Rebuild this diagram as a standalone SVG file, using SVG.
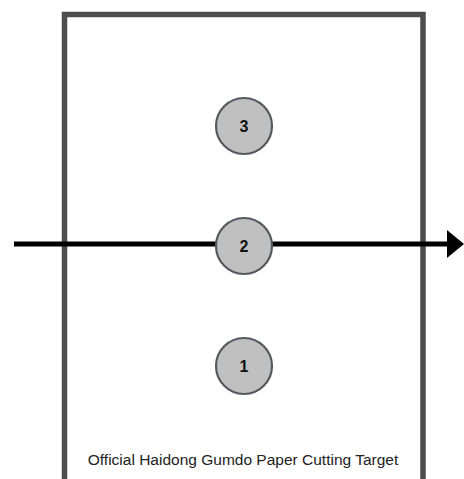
<svg xmlns="http://www.w3.org/2000/svg" width="464" height="479" viewBox="0 0 464 479">
<style>
.frame{fill:none;stroke:#4d4d4d;stroke-width:5.5}
.node circle{fill:#c0c0c0;stroke:#555a60;stroke-width:2.2}
.node text{font-family:"Liberation Sans",Arial,sans-serif;font-weight:bold;font-size:16px;fill:#111;text-anchor:middle}
.cap{font-family:"Liberation Sans",Arial,sans-serif;font-size:15.5px;fill:#222;text-anchor:middle}
.conn{stroke:#000;stroke-width:5;fill:none}
</style>
<defs>
<marker id="ah" markerUnits="userSpaceOnUse" markerWidth="18" markerHeight="28" refX="0" refY="14" orient="auto">
<path d="M0,0 L17,14 L0,28 Z" fill="#000"/>
</marker>
</defs>
<rect width="464" height="479" fill="#fff"/>
<path class="frame" d="M64.5,479 V14.5 H423 V479"/>
<g id="connectors">
<line class="conn" x1="14" y1="244" x2="447" y2="244" marker-end="url(#ah)"/>
</g>
<g id="node3" class="node"><circle cx="244" cy="126" r="28"/><text x="244" y="132">3</text></g>
<g id="node2" class="node"><circle cx="244" cy="246" r="28"/><text x="244" y="252">2</text></g>
<g id="node1" class="node"><circle cx="244" cy="366" r="28"/><text x="244" y="372">1</text></g>
<text class="cap" x="243" y="465">Official Haidong Gumdo Paper Cutting Target</text>
</svg>
